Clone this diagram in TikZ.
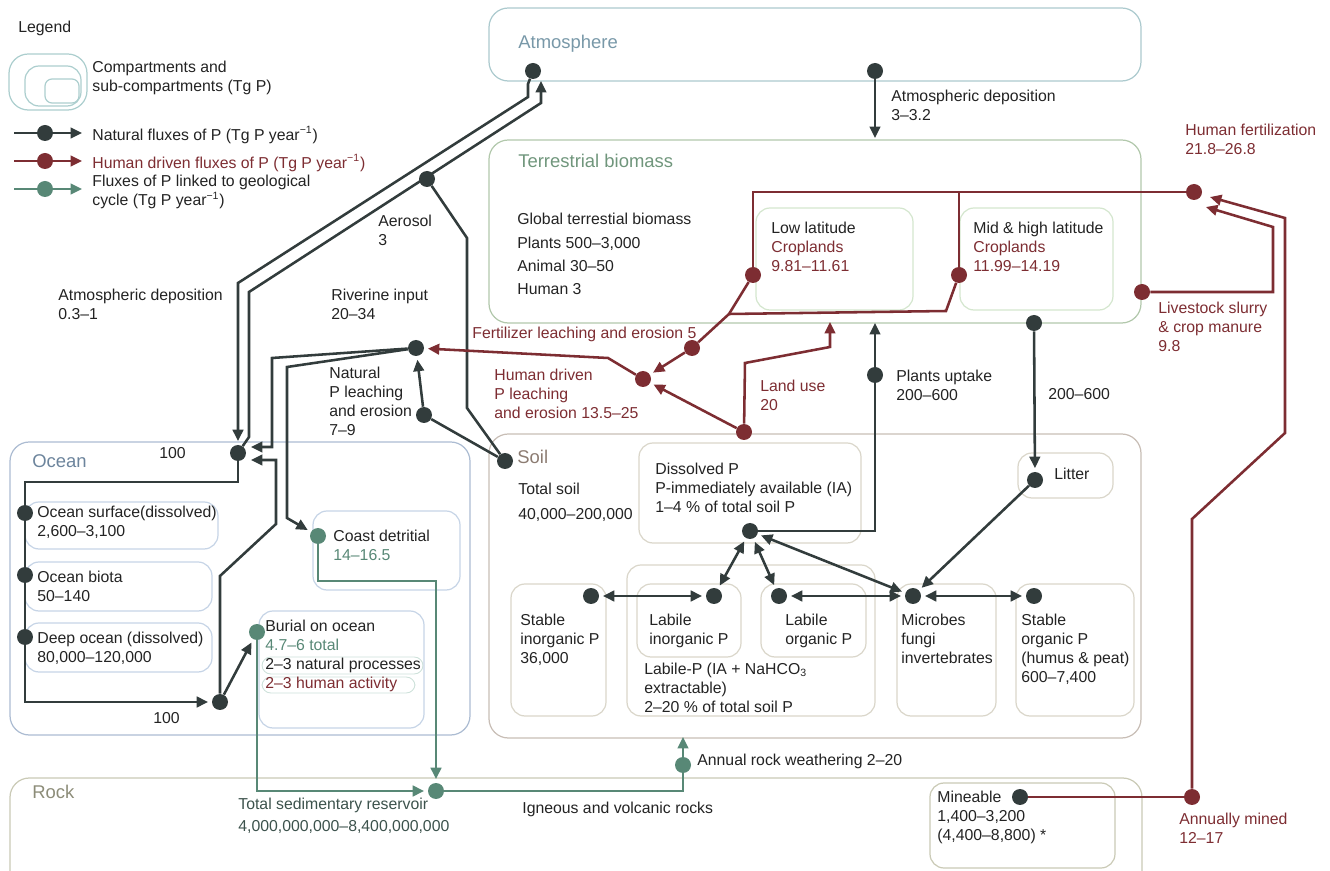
\documentclass[tikz,border=0pt]{standalone}
\usepackage{fontspec}
\setmainfont{Liberation Sans}
\usetikzlibrary{arrows.meta,calc}

\definecolor{natcol}{RGB}{50,60,60}
\definecolor{humcol}{RGB}{125,45,50}
\definecolor{geocol}{RGB}{88,136,118}
\definecolor{txtcol}{RGB}{35,35,35}
\definecolor{sedcol}{RGB}{60,82,76}
\definecolor{atmline}{RGB}{172,202,206}
\definecolor{atmtxt}{RGB}{120,152,168}
\definecolor{terline}{RGB}{178,200,172}
\definecolor{tertxt}{RGB}{112,150,124}
\definecolor{cropline}{RGB}{212,230,206}
\definecolor{ocnline}{RGB}{172,188,210}
\definecolor{ocntxt}{RGB}{108,132,156}
\definecolor{ocnsub}{RGB}{198,212,230}
\definecolor{burline}{RGB}{205,225,218}
\definecolor{soilline}{RGB}{200,190,182}
\definecolor{soiltxt}{RGB}{140,124,114}
\definecolor{soilsub}{RGB}{218,214,202}
\definecolor{rockline}{RGB}{202,202,182}
\definecolor{rocktxt}{RGB}{140,140,120}
\definecolor{legline}{RGB}{172,206,206}

\tikzset{
  lbl/.style={anchor=north west, inner sep=0pt, align=left, text=txtcol,
    font=\fontsize{9}{10.8}\selectfont},
  hlbl/.style={lbl, text=humcol},
  biglbl/.style={lbl, font=\fontsize{10.5}{12}\selectfont},
  ndot/.style={circle, fill=natcol, inner sep=0pt, minimum size=0.32cm},
  hdot/.style={ndot, fill=humcol},
  gdot/.style={ndot, fill=geocol},
  nflux/.style={draw=natcol, line width=1.45pt},
  hflux/.style={draw=humcol, line width=1.45pt},
  gflux/.style={draw=geocol, line width=1.45pt},
  flowtip/.style={-{Triangle[length=6.5pt,width=6pt]}},
  flowtips/.style={{Triangle[length=6.5pt,width=6pt]}-{Triangle[length=6.5pt,width=6pt]},
    shorten >=2pt, shorten <=2pt},
  compbox/.style={line width=0.7pt, rounded corners=11pt},
  subbox/.style={line width=0.7pt, rounded corners=8pt}
}

\begin{document}
\begin{tikzpicture}[x=0.02cm,y=-0.02cm]
\useasboundingbox (0,0) rectangle (1330,871);
\clip (0,0) rectangle (1330,871);

\draw[compbox, draw=legline] (9,54) rectangle (87,110);
\draw[subbox, draw=legline] (25,66) rectangle (81,106);
\draw[line width=0.7pt, rounded corners=4pt, draw=legline] (45,79) rectangle (79,103);

\draw[compbox, draw=atmline] (489,8) rectangle (1141,81);
\draw[compbox, draw=terline] (489,140) rectangle (1141,323);
\draw[subbox, draw=cropline] (756,208) rectangle (913,310);
\draw[subbox, draw=cropline] (960,208) rectangle (1113,310);

\draw[compbox, draw=ocnline] (10,442) rectangle (470,735);
\draw[subbox, draw=ocnsub] (25,502) rectangle (218,549);
\draw[subbox, draw=ocnsub] (25,562) rectangle (212,611);
\draw[subbox, draw=ocnsub] (25,623) rectangle (212,672);
\draw[subbox, draw=ocnsub] (313,511) rectangle (460,590);
\draw[subbox, draw=ocnsub] (259,611) rectangle (424,728);
\draw[line width=0.5pt, rounded corners=5pt, draw=burline] (262,657) rectangle (423,674);
\draw[line width=0.5pt, rounded corners=5pt, draw=burline] (262,677) rectangle (415,693);

\draw[compbox, draw=soilline] (489,434) rectangle (1141,738);
\draw[subbox, draw=soilsub] (639,443) rectangle (861,543);
\draw[subbox, draw=soilsub] (1018,453) rectangle (1113,498);
\draw[subbox, draw=soilsub] (511,584) rectangle (606,716);
\draw[subbox, draw=soilsub] (627,565) rectangle (875,716);
\draw[subbox, draw=soilsub] (637,584) rectangle (741,657);
\draw[subbox, draw=soilsub] (761,584) rectangle (866,657);
\draw[subbox, draw=soilsub] (897,584) rectangle (996,716);
\draw[subbox, draw=soilsub] (1016,584) rectangle (1134,716);

\draw[compbox, draw=rockline] (10,778) rectangle (1142,900);
\draw[subbox, draw=rockline] (930,783) rectangle (1115,868);

\node[ndot] (atmOut) at (533,71) {};
\node[ndot] (atmDep) at (875,71) {};
\node[ndot] (aeroDot) at (427,179) {};
\node[ndot] (rivDot) at (416,348) {};
\node[ndot] (leachDot) at (424,415) {};
\node[ndot] (soilDot) at (505,461) {};
\node[ndot] (oceanDot) at (238,453) {};
\node[ndot] (surfDot) at (25,513) {};
\node[ndot] (biotaDot) at (25,575) {};
\node[ndot] (deepDot) at (25,637) {};
\node[ndot] (upwDot) at (220,702) {};
\node[ndot] (plantDot) at (875,375) {};
\node[ndot] (litOut) at (1034,323) {};
\node[ndot] (litDot) at (1035,480) {};
\node[ndot] (dissDot) at (750,531) {};
\node[ndot] (stabInDot) at (591,596) {};
\node[ndot] (labInDot) at (714,596) {};
\node[ndot] (labOrgDot) at (779,596) {};
\node[ndot] (micDot) at (913,596) {};
\node[ndot] (stabOrgDot) at (1034,596) {};
\node[ndot] (mineDot) at (1020,797) {};
\node[hdot] (fertDot) at (1194,192) {};
\node[hdot] (lowDot) at (753,275) {};
\node[hdot] (midDot) at (959,275) {};
\node[hdot] (fertLeachDot) at (692,348) {};
\node[hdot] (humLeachDot) at (643,379) {};
\node[hdot] (landDot) at (744,432) {};
\node[hdot] (slurryDot) at (1142,292) {};
\node[hdot] (minedDot) at (1192,797) {};
\node[gdot] (coastDot) at (318,536) {};
\node[gdot] (burialDot) at (257,632) {};
\node[gdot] (sedDot) at (436,791) {};
\node[gdot] (weathDot) at (683,765) {};

\coordinate (atmDepEnd) at (875,138);
\coordinate (atmIn) at (541,81);
\coordinate (ocnInA) at (251,447);
\coordinate (ocnInB) at (251,460);
\coordinate (plantEnd) at (875,323);
\coordinate (landEnd) at (830,322);
\coordinate (fertInA) at (1210,197);
\coordinate (fertInB) at (1206,207);
\coordinate (weathEnd) at (683,737);
\coordinate (cropJoin) at (729,314);

\draw[nflux, flowtip] (atmDep) -- (atmDepEnd);
\draw[nflux, flowtip, shorten >=2pt] (atmOut) -- (528,84) -- (528,97) -- (238,283) -- (oceanDot);
\draw[nflux, flowtip] (oceanDot) -- (249,437) -- (249,292) -- (541,103) -- (atmIn);
\draw[nflux] (soilDot) -- (467,408) -- (467,238) -- (aeroDot);
\draw[nflux] (soilDot) -- (leachDot);
\draw[nflux, flowtip, shorten >=2pt] (leachDot) -- (rivDot);
\draw[nflux, flowtip] (rivDot) -- (272,358) -- (272,447) -- (ocnInA);
\draw[nflux, flowtip, shorten >=2pt] (rivDot) -- (287,367) -- (287,518) -- (coastDot);
\draw[nflux, flowtip, shorten >=2pt] (oceanDot) -- (238,482) -- (25,482) -- (25,702) -- (upwDot);
\draw[nflux, flowtip] (upwDot) -- (220,576) -- (276,524) -- (276,460) -- (ocnInB);
\draw[nflux, flowtip, shorten >=2pt] (upwDot) -- (burialDot);
\draw[nflux, flowtip] (dissDot) -| (plantEnd);
\draw[nflux, flowtip, shorten >=2pt] (litOut) -- (litDot);
\draw[nflux, flowtip, shorten >=2pt] (litDot) -- (micDot);
\foreach \a/\b in {stabInDot/labInDot, labOrgDot/micDot, micDot/stabOrgDot,
  dissDot/labInDot, dissDot/labOrgDot, dissDot/micDot}
  \draw[nflux, flowtips] (\a) -- (\b);

\draw[hflux] (fertDot) -| (lowDot);
\draw[hflux] (midDot) -- (midDot |- fertDot);
\draw[hflux] (lowDot) -- (cropJoin) -- (fertLeachDot);
\draw[hflux] (midDot) -- (946,311) -- (cropJoin);
\draw[hflux, flowtip, shorten >=2pt] (fertLeachDot) -- (humLeachDot);
\draw[hflux, flowtip, shorten >=2pt] (humLeachDot) -- (608,358) -- (rivDot);
\draw[hflux, flowtip, shorten >=2pt] (landDot) -- (humLeachDot);
\draw[hflux, flowtip] (landDot) -- (745,363) -- (830,347) -- (landEnd);
\draw[hflux, flowtip] (slurryDot) -- (1273,292) -- (1273,227) -- (fertInB);
\draw[hflux, flowtip] (minedDot) -- (1192,519) -- (1285,433) -- (1285,218) -- (fertInA);
\draw[hflux] (mineDot) -- (minedDot);

\draw[gflux, flowtip, shorten >=2pt] (coastDot) -- (318,581) -| (sedDot);
\draw[gflux, flowtip, shorten >=2pt] (burialDot) |- (sedDot);
\draw[gflux, flowtip] (sedDot) -| (weathEnd);

\coordinate (legNA) at (14,133);
\coordinate (legNB) at (82,133);
\coordinate (legHA) at (14,161);
\coordinate (legHB) at (82,161);
\coordinate (legGA) at (14,189);
\coordinate (legGB) at (82,189);
\draw[nflux, flowtip] (legNA) -- (legNB);
\draw[hflux, flowtip] (legHA) -- (legHB);
\draw[gflux, flowtip] (legGA) -- (legGB);
\node[ndot] (legND) at (45,133) {};
\node[hdot] (legHD) at (45,161) {};
\node[gdot] (legGD) at (45,189) {};

\node[lbl] (legend) at (18,21) {Legend};
\node[lbl] (legComp) at (92,61) {Compartments and\\sub-compartments (Tg P)};
\node[lbl] (legNat) at (92,126) {Natural fluxes of P (Tg P year\textsuperscript{−1})};
\node[hlbl] (legHum) at (92,154) {Human driven fluxes of P (Tg P year\textsuperscript{−1})};
\node[lbl] (legGeo) at (92,175) {Fluxes of P linked to geological\\cycle (Tg P year\textsuperscript{−1})};

\node[biglbl, text=atmtxt] (atmLbl) at (518,35) {Atmosphere};
\node[lbl] (atmDepLbl) at (891,90) {Atmospheric deposition\\3–3.2};
\node[hlbl] (fertLbl) at (1185,124) {Human fertilization\\21.8–26.8};
\node[biglbl, text=tertxt] (terLbl) at (518,154) {Terrestrial biomass};
\node[lbl] (gtbLbl) at (517,213) {Global terrestial biomass};
\node[lbl] (plantsLbl) at (517,237) {Plants 500–3,000};
\node[lbl] (animalLbl) at (517,260) {Animal 30–50};
\node[lbl] (humanLbl) at (517,283) {Human 3};
\node[lbl] (lowLbl) at (771,222) {Low latitude\\\textcolor{humcol}{Croplands}\\\textcolor{humcol}{9.81–11.61}};
\node[lbl] (midLbl) at (973,222) {Mid \& high latitude\\\textcolor{humcol}{Croplands}\\\textcolor{humcol}{11.99–14.19}};
\node[hlbl] (slurryLbl) at (1158,302) {Livestock slurry\\\& crop manure\\9.8};
\node[lbl] (aeroLbl) at (378,215) {Aerosol\\3};
\node[lbl] (atmDepOcnLbl) at (58,289) {Atmospheric deposition\\0.3–1};
\node[lbl] (rivLbl) at (331,289) {Riverine input\\20–34};
\node[hlbl] (fertLeachLbl) at (472,327) {Fertilizer leaching and erosion 5};
\node[lbl] (natLeachLbl) at (329,367) {Natural\\P leaching\\and erosion\\7–9};
\node[hlbl] (humLeachLbl) at (494,369) {Human driven\\P leaching\\and erosion 13.5–25};
\node[hlbl] (landLbl) at (760,380) {Land use\\20};
\node[lbl] (plantLbl) at (896,370) {Plants uptake\\200–600};
\node[lbl] (litFluxLbl) at (1048,388) {200–600};

\node[biglbl, text=ocntxt] (ocnLbl) at (32,454) {Ocean};
\node[lbl] (hundTop) at (159,447) {100};
\node[lbl] (surfLbl) at (37,506) {Ocean surface(dissolved)\\2,600–3,100};
\node[lbl] (biotaLbl) at (37,571) {Ocean biota\\50–140};
\node[lbl] (deepLbl) at (37,632) {Deep ocean (dissolved)\\80,000–120,000};
\node[lbl] (hundBot) at (153,712) {100};
\node[lbl] (coastLbl) at (333,530) {Coast detritial\\\textcolor{geocol}{14–16.5}};
\node[lbl] (burialLbl) at (265,620) {Burial on ocean\\\textcolor{geocol}{4.7–6 total}\\2–3 natural processes\\\textcolor{humcol}{2–3 human activity}};

\node[biglbl, text=soiltxt] (soilLbl) at (517,450) {Soil};
\node[lbl] (totSoil) at (518,483) {Total soil};
\node[lbl] (totSoilVal) at (518,508) {40,000–200,000};
\node[lbl] (dissLbl) at (655,463) {Dissolved P\\P-immediately available (IA)\\1–4 \% of total soil P};
\node[lbl] (litLbl) at (1054,468) {Litter};
\node[lbl] (stabInLbl) at (520,614) {Stable\\inorganic P\\36,000};
\node[lbl] (labInLbl) at (649,614) {Labile\\inorganic P};
\node[lbl] (labOrgLbl) at (785,614) {Labile\\organic P};
\node[lbl] (labPLbl) at (644,663) {Labile-P (IA + NaHCO\textsubscript{3}\\extractable)\\2–20 \% of total soil P};
\node[lbl] (micLbl) at (901,614) {Microbes\\fungi\\invertebrates};
\node[lbl] (stabOrgLbl) at (1021,614) {Stable\\organic P\\(humus \& peat)\\600–7,400};

\node[biglbl, text=rocktxt] (rockLbl) at (32,785) {Rock};
\node[lbl] (weathLbl) at (697,754) {Annual rock weathering 2–20};
\node[lbl, text=sedcol] (sedLbl) at (238,798) {Total sedimentary reservoir};
\node[lbl, text=sedcol] (sedVal) at (238,820) {4,000,000,000–8,400,000,000};
\node[lbl] (igneousLbl) at (522,802) {Igneous and volcanic rocks};
\node[lbl] (mineLbl) at (937,791) {Mineable\\1,400–3,200\\(4,400–8,800) *};
\node[hlbl] (minedLbl) at (1179,813) {Annually mined\\12–17};
\end{tikzpicture}
\end{document}
